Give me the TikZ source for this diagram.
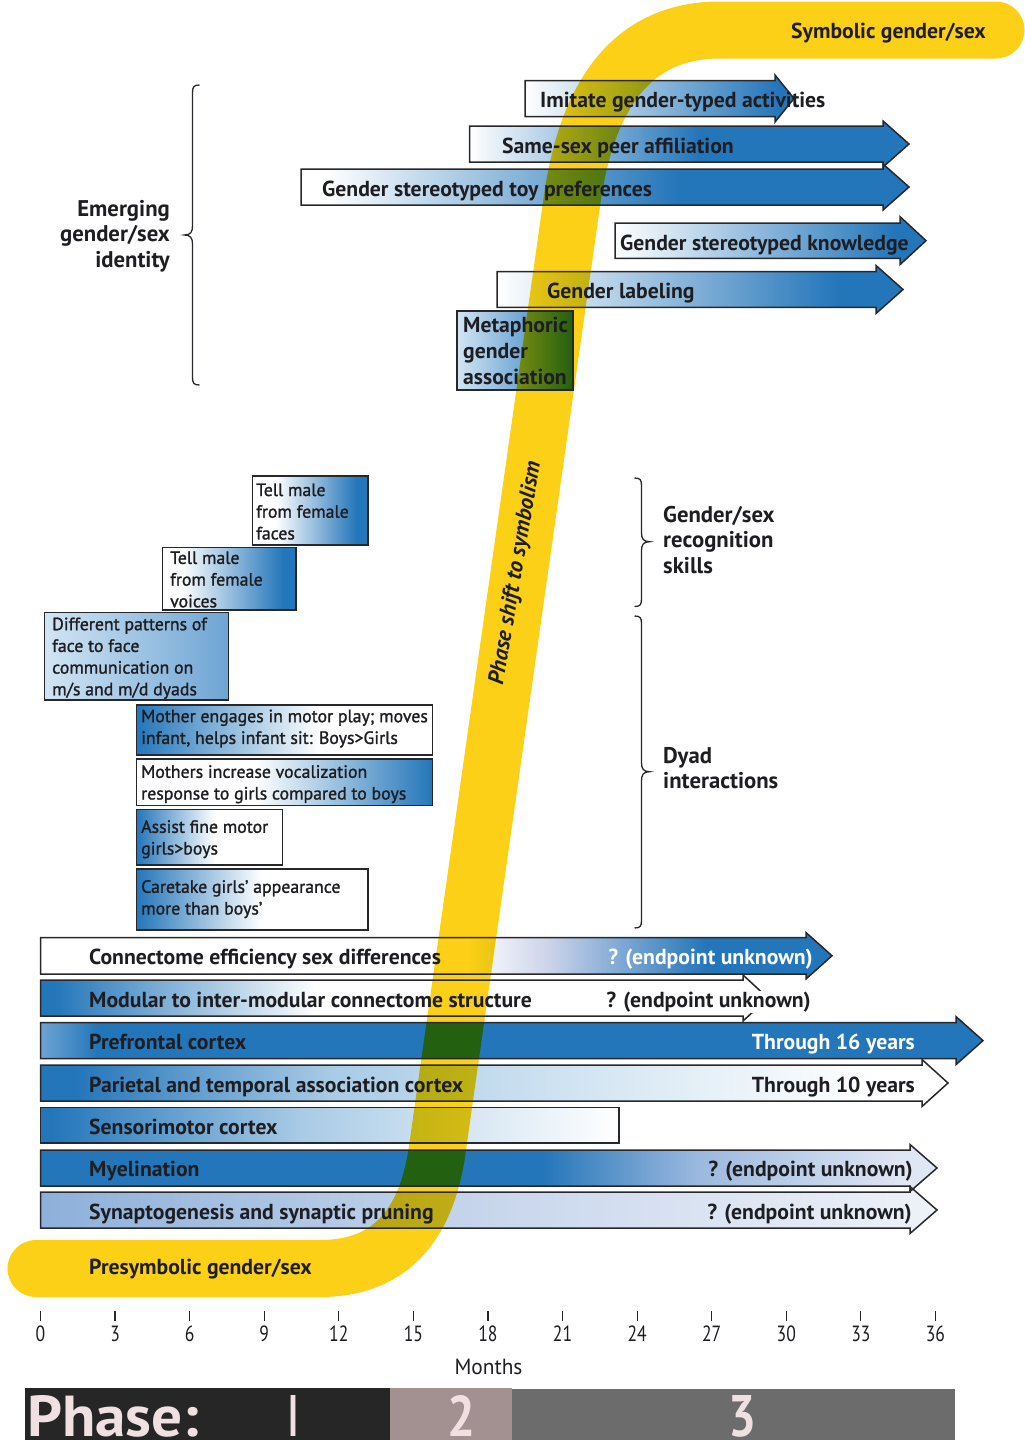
\documentclass[tikz,border=0pt]{standalone}
\usepackage{fontspec}
\setmainfont{PT Sans}
\newfontfamily\semib{PT Sans}[FakeBold=1.3]
\usepackage{graphicx}
\definecolor{bl}{RGB}{36,118,186}
\definecolor{yel}{RGB}{252,208,22}
\definecolor{bordc}{RGB}{40,40,44}
\definecolor{lb1}{RGB}{210,229,244}
\definecolor{mb}{RGB}{110,164,212}
\definecolor{pa1}{RGB}{169,203,230}
\definecolor{pa2}{RGB}{214,231,243}
\definecolor{my1}{RGB}{154,184,222}
\definecolor{my2}{RGB}{223,230,244}
\definecolor{sy1}{RGB}{141,176,218}
\definecolor{sy2}{RGB}{200,214,236}
\definecolor{sy3}{RGB}{238,242,249}
\definecolor{lav}{RGB}{205,212,234}
\definecolor{phA}{RGB}{38,38,38}
\definecolor{phB}{RGB}{163,144,144}
\definecolor{phC}{RGB}{108,108,108}
\definecolor{phT}{RGB}{240,224,226}
\definecolor{txt}{RGB}{30,30,34}

\pgfdeclarehorizontalshading{shImit}{100bp}{color(0bp)=(white); color(25bp)=(white); color(72bp)=(bl); color(100bp)=(bl)}
\pgfdeclarehorizontalshading{shSame}{100bp}{color(0bp)=(white); color(25bp)=(white); color(51bp)=(bl); color(100bp)=(bl)}
\pgfdeclarehorizontalshading{shToy}{100bp}{color(0bp)=(white); color(27bp)=(white); color(56bp)=(bl); color(100bp)=(bl)}
\pgfdeclarehorizontalshading{shKnow}{100bp}{color(0bp)=(white); color(25bp)=(white); color(70bp)=(bl); color(100bp)=(bl)}
\pgfdeclarehorizontalshading{shLab}{100bp}{color(0bp)=(white); color(25bp)=(white); color(67bp)=(bl); color(100bp)=(bl)}
\pgfdeclarehorizontalshading{shMeta}{100bp}{color(0bp)=(lb1); color(25bp)=(lb1); color(75bp)=(bl); color(100bp)=(bl)}
\pgfdeclarehorizontalshading{shFace}{100bp}{color(0bp)=(white); color(35bp)=(white); color(70bp)=(bl); color(100bp)=(bl)}
\pgfdeclarehorizontalshading{shVoice}{100bp}{color(0bp)=(white); color(32bp)=(white); color(70bp)=(bl); color(100bp)=(bl)}
\pgfdeclarehorizontalshading{shDiff}{100bp}{color(0bp)=(lb1); color(25bp)=(lb1); color(75bp)=(mb); color(100bp)=(mb)}
\pgfdeclarehorizontalshading{shMoth}{100bp}{color(0bp)=(bl); color(25bp)=(bl); color(56bp)=(white); color(100bp)=(white)}
\pgfdeclarehorizontalshading{shMothB}{100bp}{color(0bp)=(white); color(45bp)=(white); color(75bp)=(bl); color(100bp)=(bl)}
\pgfdeclarehorizontalshading{shAssist}{100bp}{color(0bp)=(bl); color(25bp)=(bl); color(52bp)=(white); color(100bp)=(white)}
\pgfdeclarehorizontalshading{shConn}{100bp}{color(0bp)=(white); color(52bp)=(white); color(57bp)=(lav); color(67bp)=(bl); color(100bp)=(bl)}
\pgfdeclarehorizontalshading{shMod}{100bp}{color(0bp)=(bl); color(26bp)=(bl); color(44bp)=(white); color(100bp)=(white)}
\pgfdeclarehorizontalshading{shPre}{100bp}{color(0bp)=(mb); color(25bp)=(mb); color(28bp)=(bl); color(100bp)=(bl)}
\pgfdeclarehorizontalshading{shPar}{100bp}{color(0bp)=(bl); color(27bp)=(bl); color(41bp)=(pa1); color(56bp)=(pa2); color(71bp)=(white); color(100bp)=(white)}
\pgfdeclarehorizontalshading{shSen}{100bp}{color(0bp)=(bl); color(26bp)=(bl); color(47.5bp)=(pa1); color(75bp)=(white); color(100bp)=(white)}
\pgfdeclarehorizontalshading{shMye}{100bp}{color(0bp)=(bl); color(53bp)=(bl); color(61.5bp)=(my1); color(73bp)=(my2); color(100bp)=(my2)}
\pgfdeclarehorizontalshading{shSyn}{100bp}{color(0bp)=(sy1); color(25bp)=(sy1); color(50bp)=(sy2); color(75bp)=(sy3); color(100bp)=(sy3)}

\newcommand\fMain{\fontsize{21.7}{26}\selectfont\bfseries}
\newcommand\fSmall{\fontsize{17.8}{21.7}\selectfont\semib}
\newcommand\fMeta{\fontsize{21.7}{26}\selectfont\bfseries}
\newcommand\fHead{\fontsize{22.7}{25.6}\selectfont\bfseries}
\newcommand\fAxis{\fontsize{22}{26}\selectfont}

% arrow outline: x0, ytop, ybot, xbody, xtip, half-height of head
\newcommand\APath[6]{(#1,#2) -- (#4,#2) -- (#4,{(#2+#3)/2-#6}) -- (#5,{(#2+#3)/2}) -- (#4,{(#2+#3)/2+#6}) -- (#4,#3) -- (#1,#3) -- cycle}
% braces: x, ytop, ybot, ytip
\newcommand\BraceL[4]{(#1+7,#2) .. controls (#1+1,#2) and (#1,#2+2) .. (#1,#2+8) -- (#1,#4-9) .. controls (#1,#4-3) and (#1-2,#4) .. (#1-8,#4) .. controls (#1-2,#4) and (#1,#4+3) .. (#1,#4+9) -- (#1,#3-8) .. controls (#1,#3-2) and (#1+1,#3) .. (#1+7,#3)}
\newcommand\BraceR[4]{(#1-7,#2) .. controls (#1-1,#2) and (#1,#2+2) .. (#1,#2+8) -- (#1,#4-9) .. controls (#1,#4-3) and (#1+2,#4) .. (#1+8,#4) .. controls (#1+2,#4) and (#1,#4+3) .. (#1,#4+9) -- (#1,#3-8) .. controls (#1,#3-2) and (#1-1,#3) .. (#1-7,#3)}

\begin{document}
\begin{tikzpicture}[x=1pt,y=-1pt,
  bordline/.style={draw=bordc, line width=1.5pt, line join=miter},
  lab/.style={font=\fMain, text=txt, inner sep=0pt, anchor=base west},
  labr/.style={font=\fMain, text=txt, inner sep=0pt, anchor=base east},
  small/.style={font=\fSmall, text=txt, inner sep=0pt, anchor=base west, align=left},
  head/.style={font=\fHead, text=txt, inner sep=0pt, anchor=base west, align=left},
  axlab/.style={font=\fAxis, text=txt, inner sep=0pt, anchor=base},
  phtext/.style={text=phT, inner sep=0pt, font=\bfseries}
]
\useasboundingbox (0,0) rectangle (1025,1440);
\fill[white] (0,0) rectangle (1025,1440);

% ---------- fills ----------
\shade[shading=shImit]  \APath{525}{80.5}{116.5}{775}{794}{23.5};
\shade[shading=shSame]  \APath{469.5}{126}{162}{883}{909}{23};
\shade[shading=shToy]   \APath{301}{169}{205}{883}{909}{23};
\shade[shading=shKnow]  \APath{615}{223}{258.3}{900}{926}{24};
\shade[shading=shLab]   \APath{497}{271.7}{307.3}{876}{903}{24};
\shade[shading=shMeta]  (457,311) rectangle (573,390);
\shade[shading=shFace]  (252.5,476) rectangle (368,545);
\shade[shading=shVoice] (162.5,547.3) rectangle (296,610);
\shade[shading=shDiff]  (44.5,612.3) rectangle (228.3,700);
\shade[shading=shMoth]  (136.5,705) rectangle (432.5,755);
\shade[shading=shMothB] (136.5,759) rectangle (432.5,805.5);
\shade[shading=shAssist] (136.5,809.3) rectangle (282.3,865);
\shade[shading=shAssist] (136.5,869) rectangle (368,930);
\shade[shading=shConn]  \APath{40.5}{937.5}{974}{806}{832}{23.2};
\shade[shading=shMod]   \APath{40.5}{980}{1016}{743}{768}{23};
\shade[shading=shPre]   \APath{40.5}{1022.7}{1058.5}{956}{983}{24};
\shade[shading=shPar]   \APath{40.5}{1065}{1101}{922}{948}{23.5};
\shade[shading=shSen]   (40.5,1107.7) rectangle (619,1143);
\shade[shading=shMye]   \APath{40.5}{1150}{1186}{910}{937}{23.5};
\shade[shading=shSyn]   \APath{40.5}{1192}{1228}{910}{937}{23.5};

% ---------- yellow band ----------
\draw[yel, line width=57pt, line cap=round, blend mode=multiply]
  (36,1268.5) -- (320,1268.5) .. controls (386.9,1268.5) and (426,1229) .. (437.2,1150)
  -- (572.1,200) .. controls (588.2,86.7) and (637.5,30) .. (720,30) -- (996,30);

% ---------- borders ----------
\draw[bordline] \APath{525}{80.5}{116.5}{775}{794}{23.5};
\draw[bordline] \APath{469.5}{126}{162}{883}{909}{23};
\draw[bordline] \APath{301}{169}{205}{883}{909}{23};
\draw[bordline] \APath{615}{223}{258.3}{900}{926}{24};
\draw[bordline] \APath{497}{271.7}{307.3}{876}{903}{24};
\draw[bordline] (457,311) rectangle (573,390);
\draw[bordline] (252.5,476) rectangle (368,545);
\draw[bordline] (162.5,547.3) rectangle (296,610);
\draw[bordline] (44.5,612.3) rectangle (228.3,700);
\draw[bordline] (136.5,705) rectangle (432.5,755);
\draw[bordline] (136.5,759) rectangle (432.5,805.5);
\draw[bordline] (136.5,809.3) rectangle (282.3,865);
\draw[bordline] (136.5,869) rectangle (368,930);
\draw[bordline] \APath{40.5}{937.5}{974}{806}{832}{23.2};
\draw[bordline] \APath{40.5}{980}{1016}{743}{768}{23};
\draw[bordline] \APath{40.5}{1022.7}{1058.5}{956}{983}{24};
\draw[bordline] \APath{40.5}{1065}{1101}{922}{948}{23.5};
\draw[bordline] (40.5,1107.7) rectangle (619,1143);
\draw[bordline] \APath{40.5}{1150}{1186}{910}{937}{23.5};
\draw[bordline] \APath{40.5}{1192}{1228}{910}{937}{23.5};

% ---------- top group texts ----------
\node[lab] (tImit) at (540,107.6) {Imitate gender-typed activities};
\node[lab] (tSame) at (502,153.6) {Same-sex peer affiliation};
\node[lab] (tToy)  at (322,196.9) {Gender stereotyped toy preferences};
\node[lab] (tKnow) at (620,250.3) {Gender stereotyped knowledge};
\node[lab] (tLab)  at (547,298.6) {Gender labeling};
\node[lab, font=\fMeta, align=left] (tMeta) at (463,384.6) {Metaphoric\\gender\\association};
\node[labr, font=\fHead, align=right] (tEmerg) at (170,267.5) {Emerging\\gender/sex\\identity};
\draw[bordc, line width=1.3pt] \BraceL{192.5}{85}{385}{235};

% ---------- middle group texts ----------
\node[small] (tFace)  at (256,539.4) {Tell male\\from female\\faces};
\node[small] (tVoice) at (170,607.3) {Tell male\\from female\\voices};
\node[small] (tDiff)  at (52,695.3) {Different patterns of\\face to face\\communication on\\m/s and m/d dyads};
\node[small] (tMoth)  at (141,743.9) {Mother engages in motor play; moves\\infant, helps infant sit: Boys>Girls};
\node[small] (tMothB) at (141,799.5) {Mothers increase vocalization\\response to girls compared to boys};
\node[small] (tAssist) at (141,854.5) {Assist fine motor\\girls>boys};
\node[small] (tCare)  at (141,914.5) {Caretake girls’ appearance\\more than boys’};

\draw[bordc, line width=1.3pt] \BraceR{641.5}{478}{606.5}{541.7};
\draw[bordc, line width=1.3pt] \BraceR{641.5}{616}{928}{771.7};
\node[head] (tRecog) at (663,573.2) {Gender/sex\\recognition\\skills};
\node[head] (tDyad)  at (663,788.6) {Dyad\\interactions};

% ---------- bottom rows texts ----------
\node[lab] (tConn) at (89,964.9) {Connectome efficiency sex differences};
\node[labr, text=white] (tConnR) at (813,964.9) {? (endpoint unknown)};
\node[lab] (tMod) at (89,1007.6) {Modular to inter-modular connectome structure};
\node[labr, fill=white, inner xsep=1pt, inner ysep=1pt] (tModR) at (812,1007.6) {? (endpoint unknown)};
\node[lab] (tPre) at (89,1049.9) {Prefrontal cortex};
\node[labr, text=white] (tPreR) at (915,1049.9) {Through 16 years};
\node[lab] (tPar) at (89,1092.6) {Parietal and temporal association cortex};
\node[labr] (tParR) at (915,1092.6) {Through 10 years};
\node[lab] (tSen) at (89,1134.3) {Sensorimotor cortex};
\node[lab] (tMye) at (89,1176.9) {Myelination};
\node[labr] (tMyeR) at (913,1176.9) {? (endpoint unknown)};
\node[lab] (tSyn) at (89,1219.3) {Synaptogenesis and synaptic pruning};
\node[labr] (tSynR) at (912,1219.3) {? (endpoint unknown)};

% ---------- band labels ----------
\node[lab] (tSym) at (791,38.3) {Symbolic gender/sex};
\node[lab] (tPresym) at (89,1274.6) {Presymbolic gender/sex};
\node[font=\fontsize{22.3}{26}\selectfont\bfseries\itshape, text=txt, inner sep=0pt, rotate=80.5] (tShift) at (516,573) {Phase shift to symbolism};

% ---------- axis ----------
\foreach \m [count=\i from 0] in {0,3,...,36} {
  \coordinate (tk\i) at ({40.5+\m*24.86},1311);
  \draw[bordc, line width=1.2pt] (tk\i) -- ++(0,10);
  \node[axlab] (ax\i) at ({40.5+\m*24.86},1341.7) {\scalebox{0.8}[1]{\m}};
}
\node[axlab] (months) at (488.5,1374) {\scalebox{0.97}[1]{Months}};

% ---------- phase bar ----------
\fill[phA] (25,1388) rectangle (390,1440);
\fill[phB] (390,1388) rectangle (512,1440);
\fill[phC] (512,1389) rectangle (955,1440);
\node[phtext, anchor=base west] (ph) at (27,1436) {\resizebox{172pt}{41pt}{Phase:}};
\node[phtext, anchor=base west] (ph1) at (288,1436) {\resizebox{10pt}{41pt}{I}};
\node[phtext, anchor=base] (ph2) at (461,1436) {\resizebox{28pt}{41pt}{2}};
\node[phtext, anchor=base] (ph3) at (742,1436) {\resizebox{28pt}{41pt}{3}};
\end{tikzpicture}
\end{document}
